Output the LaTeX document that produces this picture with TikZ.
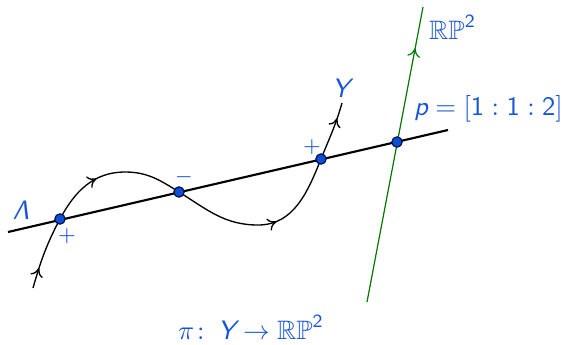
\documentclass[tikz,border=0pt]{standalone}
\usepackage{amsmath,amssymb}
\usepackage{fontspec}
\usetikzlibrary{decorations.markings,arrows.meta}
\definecolor{lblue}{RGB}{25,85,215}
\definecolor{dotblue}{RGB}{10,80,210}
\definecolor{dgreen}{RGB}{0,120,0}
\newcommand{\sv}[1]{\textsf{\itshape #1}}
\newcommand{\sd}[1]{\textsf{#1}}
\tikzset{
  lbl/.style={text=lblue,font=\sffamily,inner sep=1pt},
  pt/.style={circle,fill=dotblue,draw=black!70!blue,line width=0.4pt,inner sep=0pt,minimum size=3.9pt},
}
\begin{document}
\begin{tikzpicture}[x=0.375pt,y=0.375pt]
\useasboundingbox (0,0) rectangle (565,344);
% line Lambda
\coordinate (L1) at (8,112);
\coordinate (L2) at (448,214);
\coordinate (A) at (60,125);
\coordinate (B) at (179,152);
\coordinate (C) at (321,185);
\coordinate (P) at (397,202);
\coordinate (G1) at (367,42);
\coordinate (G2) at (423,337);
% curve points
\coordinate (S) at (33,56);
\coordinate (T1) at (125,172);
\coordinate (T2) at (258,119);
\coordinate (E) at (342,241);
% green line
\draw[dgreen,line width=0.45pt,
  decoration={markings,mark=at position 0.86 with {\arrow[line width=0.45pt]{Computer Modern Rightarrow[length=3.2pt,width=4.8pt]}}},
  postaction={decorate}] (G1) -- (G2);
% curve Y
\draw[line width=0.5pt,
  decoration={markings,
    mark=at position 0.045 with {\arrow[line width=0.5pt]{Computer Modern Rightarrow[length=3.2pt,width=4.8pt]}},
    mark=at position 0.28 with {\arrow[line width=0.5pt]{Computer Modern Rightarrow[length=3.2pt,width=4.8pt]}},
    mark=at position 0.70 with {\arrow[line width=0.5pt]{Computer Modern Rightarrow[length=3.2pt,width=4.8pt]}},
    mark=at position 0.965 with {\arrow[line width=0.5pt]{Computer Modern Rightarrow[length=3.2pt,width=4.8pt]}}},
  postaction={decorate}]
  (S) to[out=74,in=-118] (A) to[out=62,in=180] (T1) to[out=0,in=148] (B)
  to[out=-32,in=180] (T2) to[out=0,in=-112] (C) to[out=68,in=-106] (E);
% main line
\draw[line width=0.8pt] (L1) -- (L2);
% dots
\node[pt] (nA) at (A) {};
\node[pt] (nB) at (B) {};
\node[pt] (nC) at (C) {};
\node[pt] (nP) at (P) {};
% labels
\node[lbl] (lLam) at (21,134) {\sv{Λ}};
\node[lbl,font=\sffamily\footnotesize] (lp1) at (67,108) {$+$};
\node[lbl,font=\sffamily\footnotesize] (lm) at (184,167) {$-$};
\node[lbl,font=\sffamily\footnotesize] (lp2) at (312,197) {$+$};
\node[lbl] (lY) at (343,256) {\sv{Y}};
\node[lbl,anchor=west] (lp) at (411,235) {$\sv{p}=[\sd{1}:\sd{1}:\sd{2}]$};
\node[lbl,anchor=west] (lR) at (426,317) {$\mathbb{RP}^{\sd{2}}$};
\node[lbl] (lpi) at (251,17) {$\pi\colon\, \sv{Y}\to\mathbb{RP}^{\sd{2}}$};
\end{tikzpicture}
\end{document}
